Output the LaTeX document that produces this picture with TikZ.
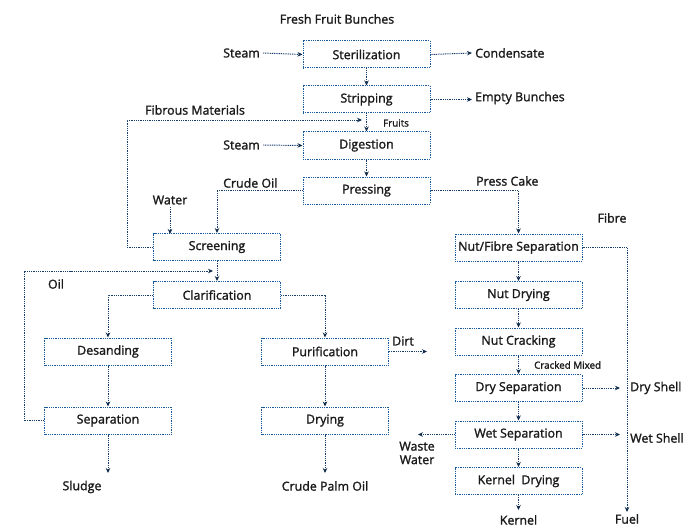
\documentclass[tikz,border=0pt]{standalone}
\usepackage{fontspec}
\setmainfont{Open Sans}[FakeBold=1.5]
\usetikzlibrary{arrows.meta}
\definecolor{boxblue}{HTML}{1A5A9A}
\definecolor{linenavy}{HTML}{163D6C}
\definecolor{tipnavy}{HTML}{0F2A4A}
\definecolor{txt}{HTML}{1A1A1A}
\tikzset{
  proc/.style={draw=boxblue, line width=1pt, dash pattern=on 1pt off 0.8pt, minimum width=127pt, minimum height=27pt, inner sep=0pt, font=\fontsize{12.4}{14}\selectfont, text=txt},
  lbl/.style={font=\fontsize{12.4}{14}\selectfont, text=txt, inner sep=0pt},
  small/.style={font=\fontsize{9.8}{11}\selectfont, text=txt, inner sep=0pt},
  flow/.style={draw=linenavy, line width=0.95pt, dash pattern=on 1pt off 0.8pt, -{Stealth[length=5pt,width=4.5pt,fill=tipnavy,color=tipnavy]}}
}
\begin{document}
\begin{tikzpicture}[x=1pt,y=-1pt]
\useasboundingbox (0,0) rectangle (693,532);
% process boxes
\node[proc] (ster) at (366.5,54.5) {Sterilization};
\node[proc] (strip) at (366.5,99.5) {Stripping};
\node[proc] (dig) at (366.5,145.5) {Digestion};
\node[proc] (press) at (366.5,190.5) {Pressing};
\node[proc] (screen) at (217,247) {Screening};
\node[proc] (clar) at (217,295) {Clarification};
\node[proc] (desand) at (108,351.5) {Desanding};
\node[proc] (purif) at (325,351.5) {Purification};
\node[proc] (sep) at (108,420.5) {Separation};
\node[proc] (dry) at (325,420.5) {Drying};
\node[proc] (nfs) at (518.5,247.5) {Nut/Fibre Separation};
\node[proc] (ndry) at (518.5,295) {Nut Drying};
\node[proc] (ncrack) at (518.5,341.5) {Nut Cracking};
\node[proc] (dsep) at (518.5,388) {Dry Separation};
\node[proc] (wsep) at (518.5,434.5) {Wet Separation};
\node[proc] (kdry) at (518.5,481) {Kernel\ \ Drying};
% labels
\node[lbl] (ffb) at (337,19) {Fresh Fruit Bunches};
\node[lbl,anchor=east] (steam1) at (260,53) {Steam};
\node[lbl,anchor=west] (cond) at (475,53) {Condensate};
\node[lbl,anchor=west] (empty) at (475,98) {Empty Bunches};
\node[lbl,anchor=west] (fib) at (145,110) {Fibrous Materials};
\node[small,anchor=west] (fruits) at (383,123) {Fruits};
\node[lbl,anchor=east] (steam2) at (260,145) {Steam};
\node[lbl,anchor=west] (crude) at (223,183) {Crude Oil};
\node[lbl] (water) at (170,200) {Water};
\node[lbl,anchor=west] (pcake) at (476,181) {Press Cake};
\node[lbl] (fibre) at (612,218) {Fibre};
\node[lbl] (oil) at (56,284) {Oil};
\node[lbl,anchor=west] (dirt) at (392,341) {Dirt};
\node[small,anchor=west] (cmixed) at (534,365) {Cracked Mixed};
\node[lbl,anchor=west] (dshell) at (630,388) {Dry Shell};
\node[lbl,anchor=west] (wshell) at (630,438) {Wet Shell};
\node[lbl,align=center,font=\fontsize{12.4}{13.5}\selectfont] (waste) at (417,453) {Waste\\Water};
\node[lbl] (sludge) at (82,487) {Sludge};
\node[lbl] (cpo) at (325,486) {Crude Palm Oil};
\node[lbl] (kernel) at (518.5,520) {Kernel};
\node[lbl] (fuel) at (627,519) {Fuel};
% coordinates
\coordinate (steam1e) at (263,53);
\coordinate (conde) at (472,53);
\coordinate (emptye) at (472,99.5);
\coordinate (steam2e) at (263,145);
\coordinate (fibtip) at (362,120);
\coordinate (watertop) at (170,207);
\coordinate (oiltip) at (213,271);
\coordinate (dirte) at (427,351.5);
\coordinate (sludgee) at (108,473);
\coordinate (cpoe) at (325,473);
\coordinate (kernele) at (518.5,510);
\coordinate (fuele) at (627,512);
\coordinate (dshelle) at (620,388);
\coordinate (wshelle) at (620,434.5);
\coordinate (wastee) at (418,434.5);
% connectors
\draw[flow] (steam1e) -- (ster.west);
\draw[flow] (ster.east) -- (conde);
\draw[flow] (ster.south) -- (strip.north);
\draw[flow] (strip.east) -- (emptye);
\draw[flow] (strip.south) -- (dig.north);
\draw[flow] (steam2e) -- (dig.west);
\draw[flow] (dig.south) -- (press.north);
\draw[flow] (screen.west) -- ++(-26,0) |- (fibtip);
\draw[flow] (press.west) -| (screen.north);
\draw[flow] (watertop) -- (170,234);
\draw[flow] (press.east) -| (nfs.north);
\draw[flow] (screen.south) -- (clar.north);
\draw[flow] (sep.west) -- ++(-20,0) |- (oiltip);
\draw[flow] (clar.west) -| (desand.north);
\draw[flow] (clar.east) -| (purif.north);
\draw[flow] (desand.south) -- (sep.north);
\draw[flow] (purif.south) -- (dry.north);
\draw[flow] (purif.east) -- (dirte);
\draw[flow] (sep.south) -- (sludgee);
\draw[flow] (dry.south) -- (cpoe);
\draw[flow] (nfs.east) -| (fuele);
\draw[flow] (nfs.south) -- (ndry.north);
\draw[flow] (ndry.south) -- (ncrack.north);
\draw[flow] (ncrack.south) -- (dsep.north);
\draw[flow] (dsep.south) -- (wsep.north);
\draw[flow] (wsep.south) -- (kdry.north);
\draw[flow] (kdry.south) -- (kernele);
\draw[flow] (dsep.east) -- (dshelle);
\draw[flow] (wsep.east) -- (wshelle);
\draw[flow] (wsep.west) -- (wastee);
\end{tikzpicture}
\end{document}
